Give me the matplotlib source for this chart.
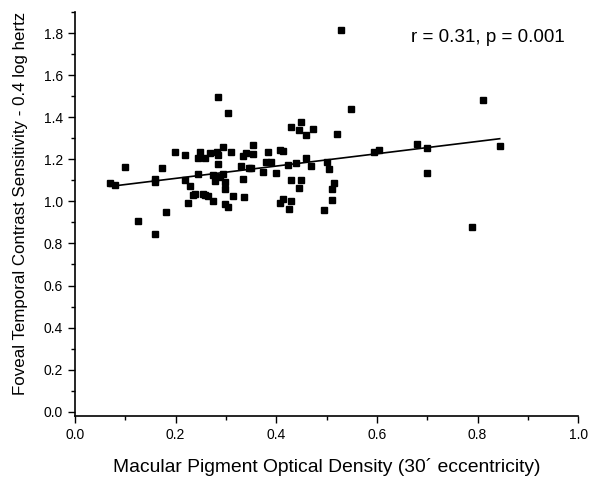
import numpy as np
import matplotlib
matplotlib.use('Agg')
import matplotlib.pyplot as plt
from matplotlib.ticker import MultipleLocator

plt.rcParams['font.family'] = ['Liberation Sans', 'DejaVu Sans']

# MPOD (30' eccentricity) vs foveal contrast sensitivity
mpod = [0.070, 0.080, 0.099, 0.125, 0.159, 0.159, 0.159, 0.174, 0.180, 0.199,
        0.219, 0.219, 0.224, 0.229, 0.234, 0.239, 0.244, 0.244, 0.249, 0.254,
        0.259, 0.259, 0.264, 0.269, 0.274, 0.274, 0.279, 0.283, 0.285, 0.284,
        0.285, 0.289, 0.294, 0.294, 0.299, 0.299, 0.299, 0.304, 0.305, 0.310,
        0.314, 0.329, 0.333, 0.333, 0.335, 0.339, 0.345, 0.349, 0.354, 0.354,
        0.374, 0.380, 0.384, 0.390, 0.400, 0.408, 0.408, 0.414, 0.414, 0.424,
        0.425, 0.429, 0.429, 0.430, 0.439, 0.445, 0.445, 0.449, 0.449, 0.460,
        0.460, 0.469, 0.474, 0.494, 0.500, 0.505, 0.510, 0.510, 0.514, 0.520,
        0.529, 0.549, 0.594, 0.604, 0.679, 0.700, 0.700, 0.789, 0.810, 0.844]
sensibilidade = [1.086, 1.078, 1.165, 0.906, 1.105, 1.093, 0.846, 1.159, 0.949, 1.237,
                 1.219, 1.102, 0.993, 1.074, 1.028, 1.034, 1.205, 1.131, 1.237, 1.034,
                 1.207, 1.031, 1.026, 1.232, 1.002, 1.127, 1.097, 1.237, 1.219, 1.180,
                 1.498, 1.115, 1.257, 1.129, 1.094, 1.059, 0.987, 0.971, 1.419, 1.234,
                 1.025, 1.169, 1.108, 1.215, 1.020, 1.230, 1.158, 1.158, 1.268, 1.226,
                 1.140, 1.185, 1.237, 1.185, 1.137, 1.246, 0.990, 1.241, 1.009, 1.173,
                 0.964, 1.355, 1.101, 1.002, 1.183, 1.340, 1.063, 1.376, 1.101, 1.314,
                 1.205, 1.167, 1.343, 0.958, 1.189, 1.156, 1.058, 1.006, 1.088, 1.322,
                 1.815, 1.438, 1.237, 1.243, 1.275, 1.254, 1.135, 0.880, 1.482, 1.262]

x = np.array(mpod)
y = np.array(sensibilidade)
coef = np.polyfit(x, y, 1)
xl = np.array([x.min(), x.max()])

fig = plt.figure(figsize=(5.9, 4.82), dpi=100)
ax = fig.add_axes([0.127, 0.137, 0.853, 0.838])

ax.plot(x, y, 's', color='black', markersize=4.5, linestyle='none')
ax.plot(xl, np.polyval(coef, xl), color='black', linewidth=1.2)

ax.set_xlim(0, 1.0)
ax.set_ylim(-0.02, 1.9)
ax.xaxis.set_major_locator(MultipleLocator(0.2))
ax.xaxis.set_minor_locator(MultipleLocator(0.1))
ax.yaxis.set_major_locator(MultipleLocator(0.2))
ax.yaxis.set_minor_locator(MultipleLocator(0.1))
ax.tick_params(which='major', direction='out', length=5, width=1, labelsize=10)
ax.tick_params(which='minor', direction='out', length=3, width=1)

ax.spines['top'].set_visible(False)
ax.spines['right'].set_visible(False)
ax.spines['left'].set_linewidth(1.2)
ax.spines['bottom'].set_linewidth(1.2)

ax.set_xlabel('Macular Pigment Optical Density (30\u00b4 eccentricity)', fontsize=13.9, labelpad=12)
ax.set_ylabel('Foveal Temporal Contrast Sensitivity - 0.4 log hertz', fontsize=12.2)
ax.yaxis.set_label_coords(-0.094, 0.525)
ax.text(0.668, 1.78, 'r = 0.31, p = 0.001', fontsize=13.6, ha='left', va='center')

fig.savefig('out.png', dpi=100)
